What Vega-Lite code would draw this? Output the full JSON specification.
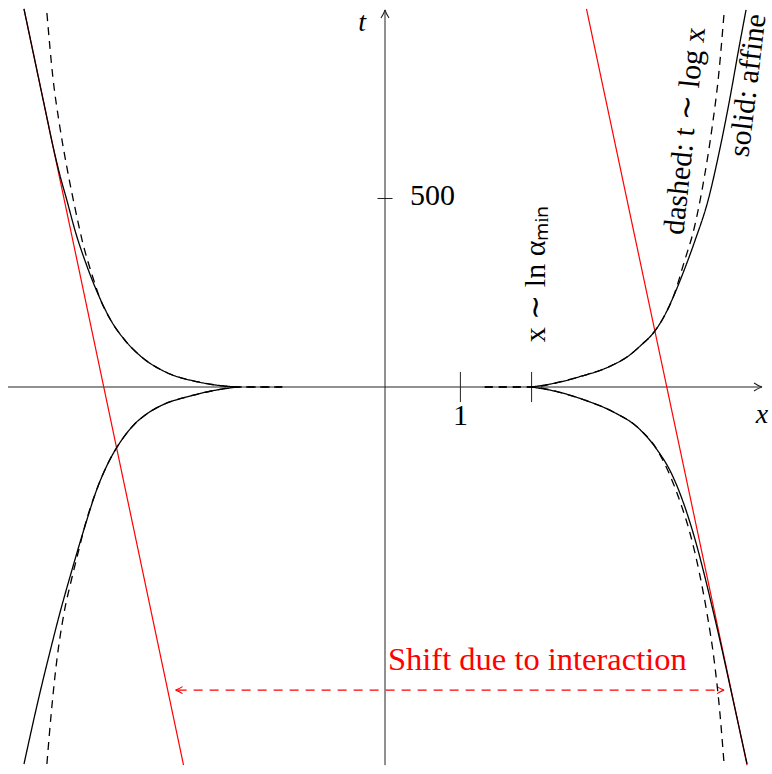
{
  "$schema": "https://vega.github.io/schema/vega-lite/v6.json",
  "width": 772,
  "height": 774,
  "autosize": {"type": "fit", "contains": "padding"},
  "padding": 0,
  "background": "white",
  "config": {"view": {"stroke": null}},
  "datasets": {
    "axes": [
      {"x": -5.0, "t": 0, "x2": 5.0, "t2": 0},
      {"x": 0, "t": -1003, "x2": 0, "t2": 1000},
      {"x": 1, "t": -40, "x2": 1, "t2": 40},
      {"x": 1.944, "t": -40, "x2": 1.944, "t2": 40},
      {"x": -0.1, "t": 500, "x2": 0.1, "t2": 500}
    ],
    "redlines": [
      {"x": -4.788, "t": 1002.7, "x2": -2.672, "t2": -1002.7},
      {"x": 2.672, "t": 1002.7, "x2": 4.802, "t2": -1002.7}
    ],
    "shift": [
      {"x": -2.75, "t": -804, "x2": 4.47, "t2": -804}
    ],
    "heads": [
      {"x": 5.0, "t": 0, "ang": 0},
      {"x": 0, "t": 1000, "ang": 270}
    ],
    "redheads": [
      {"x": -2.778, "t": -804, "ang": 180},
      {"x": 4.497, "t": -804, "ang": 0}
    ],
    "curves": [
      {"c": "UL", "s": "solid", "x": -4.788, "t": 1002.7},
      {"c": "UL", "s": "solid", "x": -4.648, "t": 870.0},
      {"c": "UL", "s": "solid", "x": -4.508, "t": 737.4},
      {"c": "UL", "s": "solid", "x": -4.392, "t": 628.6},
      {"c": "UL", "s": "solid", "x": -4.312, "t": 562.3},
      {"c": "UL", "s": "solid", "x": -4.220, "t": 496.0},
      {"c": "UL", "s": "solid", "x": -4.101, "t": 408.5},
      {"c": "UL", "s": "solid", "x": -3.968, "t": 328.9},
      {"c": "UL", "s": "solid", "x": -3.783, "t": 236.1},
      {"c": "UL", "s": "solid", "x": -3.638, "t": 177.7},
      {"c": "UL", "s": "solid", "x": -3.452, "t": 124.7},
      {"c": "UL", "s": "solid", "x": -3.228, "t": 79.6},
      {"c": "UL", "s": "solid", "x": -2.910, "t": 39.8},
      {"c": "UL", "s": "solid", "x": -2.474, "t": 13.3},
      {"c": "UL", "s": "solid", "x": -2.196, "t": 4.0},
      {"c": "UL", "s": "solid", "x": -1.958, "t": 0},

      {"c": "ULd", "s": "dashed", "x": -4.484, "t": 992.0},
      {"c": "ULd", "s": "dashed", "x": -4.405, "t": 822.3},
      {"c": "ULd", "s": "dashed", "x": -4.312, "t": 689.7},
      {"c": "ULd", "s": "dashed", "x": -4.220, "t": 583.6},
      {"c": "ULd", "s": "dashed", "x": -4.114, "t": 477.5},
      {"c": "ULd", "s": "dashed", "x": -4.008, "t": 382.0},
      {"c": "ULd", "s": "dashed", "x": -3.876, "t": 291.8},
      {"c": "ULd", "s": "dashed", "x": -3.783, "t": 236.1},
      {"c": "ULd", "s": "dashed", "x": -3.638, "t": 177.7},
      {"c": "ULd", "s": "dashed", "x": -3.452, "t": 124.7},
      {"c": "ULd", "s": "dashed", "x": -3.228, "t": 79.6},
      {"c": "ULd", "s": "dashed", "x": -2.910, "t": 39.8},
      {"c": "ULd", "s": "dashed", "x": -2.474, "t": 13.3},
      {"c": "ULd", "s": "dashed", "x": -2.196, "t": 4.0},
      {"c": "ULd", "s": "dashed", "x": -1.958, "t": 0},
      {"c": "ULd", "s": "dashed", "x": -1.362, "t": 0},

      {"c": "UR", "s": "solid", "x": 1.944, "t": 0},
      {"c": "UR", "s": "solid", "x": 2.262, "t": 10.6},
      {"c": "UR", "s": "solid", "x": 2.566, "t": 26.5},
      {"c": "UR", "s": "solid", "x": 2.963, "t": 53.1},
      {"c": "UR", "s": "solid", "x": 3.228, "t": 82.2},
      {"c": "UR", "s": "solid", "x": 3.399, "t": 111.4},
      {"c": "UR", "s": "solid", "x": 3.558, "t": 143.2},
      {"c": "UR", "s": "solid", "x": 3.690, "t": 183.0},
      {"c": "UR", "s": "solid", "x": 3.823, "t": 238.7},
      {"c": "UR", "s": "solid", "x": 3.968, "t": 310.3},
      {"c": "UR", "s": "solid", "x": 4.114, "t": 389.9},
      {"c": "UR", "s": "solid", "x": 4.286, "t": 496.0},
      {"c": "UR", "s": "solid", "x": 4.438, "t": 628.6},
      {"c": "UR", "s": "solid", "x": 4.570, "t": 761.3},
      {"c": "UR", "s": "solid", "x": 4.689, "t": 893.9},
      {"c": "UR", "s": "solid", "x": 4.788, "t": 1000},

      {"c": "URd", "s": "dashed", "x": 1.323, "t": 0},
      {"c": "URd", "s": "dashed", "x": 1.944, "t": 0},
      {"c": "URd", "s": "dashed", "x": 2.262, "t": 10.6},
      {"c": "URd", "s": "dashed", "x": 2.566, "t": 26.5},
      {"c": "URd", "s": "dashed", "x": 2.963, "t": 53.1},
      {"c": "URd", "s": "dashed", "x": 3.228, "t": 82.2},
      {"c": "URd", "s": "dashed", "x": 3.399, "t": 111.4},
      {"c": "URd", "s": "dashed", "x": 3.558, "t": 143.2},
      {"c": "URd", "s": "dashed", "x": 3.690, "t": 183.0},
      {"c": "URd", "s": "dashed", "x": 3.823, "t": 238.7},
      {"c": "URd", "s": "dashed", "x": 3.968, "t": 331.6},
      {"c": "URd", "s": "dashed", "x": 4.101, "t": 421.8},
      {"c": "URd", "s": "dashed", "x": 4.233, "t": 554.4},
      {"c": "URd", "s": "dashed", "x": 4.339, "t": 689.7},
      {"c": "URd", "s": "dashed", "x": 4.425, "t": 827.6},
      {"c": "URd", "s": "dashed", "x": 4.497, "t": 992.0},

      {"c": "LR", "s": "solid", "x": 1.944, "t": 0},
      {"c": "LR", "s": "solid", "x": 2.302, "t": -13.3},
      {"c": "LR", "s": "solid", "x": 2.646, "t": -34.5},
      {"c": "LR", "s": "solid", "x": 3.029, "t": -66.3},
      {"c": "LR", "s": "solid", "x": 3.360, "t": -108.8},
      {"c": "LR", "s": "solid", "x": 3.611, "t": -167.1},
      {"c": "LR", "s": "solid", "x": 3.796, "t": -228.1},
      {"c": "LR", "s": "solid", "x": 3.968, "t": -313.0},
      {"c": "LR", "s": "solid", "x": 4.114, "t": -405.8},
      {"c": "LR", "s": "solid", "x": 4.233, "t": -496.0},
      {"c": "LR", "s": "solid", "x": 4.339, "t": -583.6},
      {"c": "LR", "s": "solid", "x": 4.444, "t": -673.7},
      {"c": "LR", "s": "solid", "x": 4.590, "t": -806.4},
      {"c": "LR", "s": "solid", "x": 4.802, "t": -1000},

      {"c": "LRd", "s": "dashed", "x": 1.323, "t": 0},
      {"c": "LRd", "s": "dashed", "x": 1.944, "t": 0},
      {"c": "LRd", "s": "dashed", "x": 2.302, "t": -13.3},
      {"c": "LRd", "s": "dashed", "x": 2.646, "t": -34.5},
      {"c": "LRd", "s": "dashed", "x": 3.029, "t": -66.3},
      {"c": "LRd", "s": "dashed", "x": 3.360, "t": -108.8},
      {"c": "LRd", "s": "dashed", "x": 3.611, "t": -167.1},
      {"c": "LRd", "s": "dashed", "x": 3.783, "t": -236.1},
      {"c": "LRd", "s": "dashed", "x": 3.915, "t": -305.0},
      {"c": "LRd", "s": "dashed", "x": 4.048, "t": -389.9},
      {"c": "LRd", "s": "dashed", "x": 4.167, "t": -490.7},
      {"c": "LRd", "s": "dashed", "x": 4.272, "t": -602.1},
      {"c": "LRd", "s": "dashed", "x": 4.365, "t": -724.1},
      {"c": "LRd", "s": "dashed", "x": 4.438, "t": -856.8},
      {"c": "LRd", "s": "dashed", "x": 4.497, "t": -1000},

      {"c": "LL", "s": "solid", "x": -4.788, "t": -1000},
      {"c": "LL", "s": "solid", "x": -4.577, "t": -811.7},
      {"c": "LL", "s": "solid", "x": -4.444, "t": -702.9},
      {"c": "LL", "s": "solid", "x": -4.312, "t": -599.5},
      {"c": "LL", "s": "solid", "x": -4.167, "t": -496.0},
      {"c": "LL", "s": "solid", "x": -3.995, "t": -379.3},
      {"c": "LL", "s": "solid", "x": -3.810, "t": -265.3},
      {"c": "LL", "s": "solid", "x": -3.651, "t": -193.6},
      {"c": "LL", "s": "solid", "x": -3.492, "t": -140.6},
      {"c": "LL", "s": "solid", "x": -3.333, "t": -100.8},
      {"c": "LL", "s": "solid", "x": -3.161, "t": -71.6},
      {"c": "LL", "s": "solid", "x": -2.923, "t": -45.1},
      {"c": "LL", "s": "solid", "x": -2.632, "t": -26.5},
      {"c": "LL", "s": "solid", "x": -2.302, "t": -10.6},
      {"c": "LL", "s": "solid", "x": -1.958, "t": 0},

      {"c": "LLd", "s": "dashed", "x": -4.484, "t": -1000},
      {"c": "LLd", "s": "dashed", "x": -4.425, "t": -862.1},
      {"c": "LLd", "s": "dashed", "x": -4.352, "t": -724.1},
      {"c": "LLd", "s": "dashed", "x": -4.259, "t": -602.1},
      {"c": "LLd", "s": "dashed", "x": -4.153, "t": -506.6},
      {"c": "LLd", "s": "dashed", "x": -4.061, "t": -432.4},
      {"c": "LLd", "s": "dashed", "x": -3.995, "t": -379.3},
      {"c": "LLd", "s": "dashed", "x": -3.810, "t": -265.3},
      {"c": "LLd", "s": "dashed", "x": -3.651, "t": -193.6},
      {"c": "LLd", "s": "dashed", "x": -3.492, "t": -140.6},
      {"c": "LLd", "s": "dashed", "x": -3.333, "t": -100.8},
      {"c": "LLd", "s": "dashed", "x": -3.161, "t": -71.6},
      {"c": "LLd", "s": "dashed", "x": -2.923, "t": -45.1},
      {"c": "LLd", "s": "dashed", "x": -2.632, "t": -26.5},
      {"c": "LLd", "s": "dashed", "x": -2.302, "t": -10.6},
      {"c": "LLd", "s": "dashed", "x": -1.958, "t": 0},
      {"c": "LLd", "s": "dashed", "x": -1.362, "t": 0}
    ],
    "italic": [
      {"x": -0.304, "t": 945, "txt": "t"},
      {"x": 5.0, "t": -95.5, "txt": "x"}
    ],
    "centerlabels": [
      {"x": 1, "t": -100, "txt": "1"}
    ],
    "leftlabels": [
      {"x": 0.331, "t": 483, "txt": "500"}
    ],
    "shiftlabel": [
      {"x": 0.04, "t": -750.7, "txt": "Shift due to interaction"}
    ],
    "rotlabels": [
      {"x": 1.997, "t": 300, "ang": 270, "txt": "x ∼ ln αₘᵢₙ"},
      {"x": 3.981, "t": 679, "ang": 276, "txt": "dashed: t ∼ log x"},
      {"x": 4.815, "t": 800, "ang": 277, "txt": "solid: affine"}
    ]
  },
  "encoding": {
    "x": {"field": "x", "type": "quantitative", "scale": {"domain": [-5.106, 5.106], "nice": false, "zero": false}, "axis": null},
    "y": {"field": "t", "type": "quantitative", "scale": {"domain": [-1026.5, 1026.5], "nice": false, "zero": false}, "axis": null}
  },
  "layer": [
    {
      "data": {"name": "axes"},
      "mark": {"type": "rule", "color": "#222222", "strokeWidth": 1},
      "encoding": {"x2": {"field": "x2"}, "y2": {"field": "t2"}}
    },
    {
      "data": {"name": "heads"},
      "mark": {"type": "point", "shape": "M-1,-0.5Q-0.4,-0.1,0,0Q-0.4,0.1,-1,0.5", "filled": false, "stroke": "#222222", "strokeWidth": 1.1, "size": 256, "opacity": 1},
      "encoding": {"angle": {"field": "ang", "type": "quantitative", "scale": null}}
    },
    {
      "data": {"name": "redlines"},
      "mark": {"type": "rule", "color": "#ff0000", "strokeWidth": 1.2},
      "encoding": {"x2": {"field": "x2"}, "y2": {"field": "t2"}}
    },
    {
      "data": {"name": "shift"},
      "mark": {"type": "rule", "color": "#ff0000", "strokeWidth": 1.1, "strokeDash": [9, 7]},
      "encoding": {"x2": {"field": "x2"}, "y2": {"field": "t2"}}
    },
    {
      "data": {"name": "redheads"},
      "mark": {"type": "point", "shape": "M-1,-0.5Q-0.4,-0.1,0,0Q-0.4,0.1,-1,0.5", "filled": false, "stroke": "#ff0000", "strokeWidth": 1.1, "size": 196, "opacity": 1},
      "encoding": {"angle": {"field": "ang", "type": "quantitative", "scale": null}}
    },
    {
      "data": {"name": "curves"},
      "mark": {"type": "line", "interpolate": "monotone", "color": "black", "strokeWidth": 1.3},
      "encoding": {
        "detail": {"field": "c", "type": "nominal"},
        "strokeDash": {"field": "s", "type": "nominal", "scale": {"domain": ["solid", "dashed"], "range": [[1, 0], [8, 6]]}, "legend": null}
      }
    },
    {
      "data": {"name": "italic"},
      "mark": {"type": "text", "font": "Liberation Serif", "fontStyle": "italic", "fontSize": 28, "align": "center", "baseline": "alphabetic", "color": "black"},
      "encoding": {"text": {"field": "txt"}}
    },
    {
      "data": {"name": "centerlabels"},
      "mark": {"type": "text", "font": "Liberation Serif", "fontSize": 30, "align": "center", "baseline": "alphabetic", "color": "black"},
      "encoding": {"text": {"field": "txt"}}
    },
    {
      "data": {"name": "leftlabels"},
      "mark": {"type": "text", "font": "Liberation Serif", "fontSize": 30, "align": "left", "baseline": "alphabetic", "color": "black"},
      "encoding": {"text": {"field": "txt"}}
    },
    {
      "data": {"name": "shiftlabel"},
      "mark": {"type": "text", "font": "Liberation Serif", "fontSize": 32.5, "align": "left", "baseline": "alphabetic", "color": "#ff0000"},
      "encoding": {"text": {"field": "txt"}}
    },
    {
      "data": {"name": "rotlabels"},
      "mark": {"type": "text", "font": "Liberation Serif", "fontSize": 30, "align": "center", "baseline": "middle", "color": "black"},
      "encoding": {"text": {"field": "txt"}, "angle": {"field": "ang", "type": "quantitative", "scale": null}}
    }
  ]
}
